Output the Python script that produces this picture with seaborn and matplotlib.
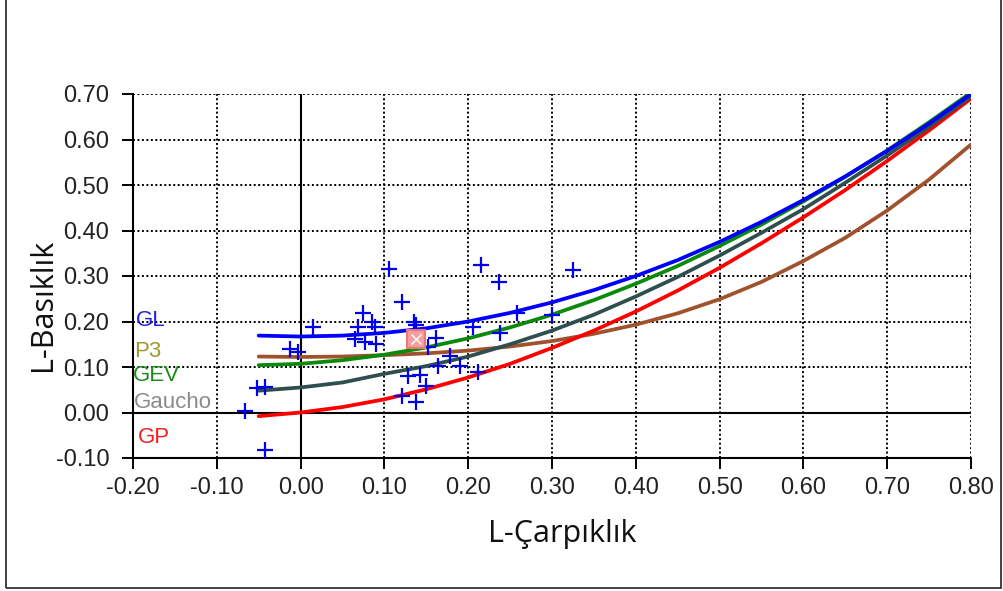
import numpy as np
import pandas as pd
import matplotlib
matplotlib.use('Agg')
import matplotlib.pyplot as plt
import seaborn as sns
from matplotlib.patches import Rectangle

# L-skewness grid used for the theoretical curves
t3 = [-0.05, 0.00, 0.05, 0.10, 0.15, 0.20, 0.25, 0.30, 0.35, 0.40,
      0.45, 0.50, 0.55, 0.60, 0.65, 0.70, 0.75, 0.80]
gl = [0.169, 0.167, 0.169, 0.175, 0.185, 0.200, 0.219, 0.242, 0.269, 0.300,
      0.335, 0.375, 0.419, 0.467, 0.519, 0.575, 0.635, 0.700]
gev = [0.104, 0.107, 0.115, 0.127, 0.143, 0.163, 0.187, 0.215, 0.247, 0.283,
       0.322, 0.366, 0.413, 0.464, 0.518, 0.576, 0.638, 0.703]
gaucho = [0.048, 0.055, 0.066, 0.085, 0.102, 0.123, 0.150, 0.180, 0.215, 0.255,
          0.298, 0.345, 0.395, 0.447, 0.505, 0.565, 0.628, 0.695]
gp = [-0.008, 0.000, 0.012, 0.029, 0.051, 0.077, 0.107, 0.142, 0.180, 0.222,
      0.268, 0.318, 0.372, 0.429, 0.489, 0.553, 0.620, 0.690]
p3 = [0.123, 0.122, 0.123, 0.126, 0.130, 0.136, 0.145, 0.157, 0.173, 0.193,
      0.218, 0.249, 0.287, 0.333, 0.384, 0.444, 0.512, 0.589]

# station L-moment ratios
obs_t3 = [-0.066, -0.052, -0.043, -0.042, -0.013, -0.003, 0.015, 0.065, 0.068,
          0.075, 0.077, 0.085, 0.089, 0.090, 0.105, 0.121, 0.121, 0.128, 0.135,
          0.138, 0.138, 0.142, 0.150, 0.152, 0.162, 0.164, 0.178, 0.190, 0.206,
          0.212, 0.215, 0.237, 0.238, 0.258, 0.300, 0.325]
obs_t4 = [0.003, 0.054, 0.056, -0.083, 0.140, 0.134, 0.187, 0.162, 0.188,
          0.219, 0.154, 0.198, 0.188, 0.151, 0.315, 0.242, 0.036, 0.081, 0.200,
          0.193, 0.023, 0.083, 0.058, 0.145, 0.164, 0.102, 0.125, 0.102, 0.188,
          0.088, 0.325, 0.286, 0.175, 0.219, 0.215, 0.314]
mean_t3 = [0.138]
mean_t4 = [0.162]

dist_names = ['GL', 'P3', 'GEV', 'Gaucho', 'GP']
line_colors = {'GL': '#0000FF', 'P3': '#A0522D', 'GEV': '#0A8A0A',
               'Gaucho': '#2F4F4F', 'GP': '#FF0000'}
label_colors = {'GL': '#2020E0', 'P3': '#9A9A30', 'GEV': '#1A8A1A',
                'Gaucho': '#8A8A8A', 'GP': '#F02020'}
label_y = [0.202, 0.134, 0.081, 0.023, -0.056]
label_x = [-0.197, -0.199, -0.200, -0.199, -0.194]

x_ticks = [-0.2, -0.1, 0.0, 0.1, 0.2, 0.3, 0.4, 0.5, 0.6, 0.7, 0.8]
x_labels = ['-0.20', '-0.10', '0.00', '0.10', '0.20', '0.30', '0.40',
            '0.50', '0.60', '0.70', '0.80']
y_ticks = [-0.1, 0.0, 0.1, 0.2, 0.3, 0.4, 0.5, 0.6, 0.7]
y_labels = ['-0.10', '0.00', '0.10', '0.20', '0.30', '0.40', '0.50',
            '0.60', '0.70']

curves = pd.DataFrame({
    't3': t3 * 5,
    't4': gl + p3 + gev + gaucho + gp,
    'dist': [n for n in dist_names for _ in t3],
})

sns.set_style('white')
plt.rcParams['font.family'] = ['Liberation Sans', 'DejaVu Sans']

fig = plt.figure(figsize=(10.04, 5.91), dpi=100)
ax = fig.add_axes([133 / 1004, 1 - 458 / 591, 838 / 1004, 364 / 591])

ax.grid(True, color='black', linestyle=(0, (1, 1.3)), linewidth=1.4)
ax.axhline(0, color='black', lw=1.5, zorder=1.5)
ax.axvline(0, color='black', lw=1.5, zorder=1.5)

for name in ['P3', 'GP', 'Gaucho', 'GEV', 'GL']:
    sns.lineplot(data=curves[curves['dist'] == name], x='t3', y='t4',
                 color=line_colors[name], lw=2.7, sort=False,
                 estimator=None, ax=ax, zorder=3)

sns.scatterplot(x=obs_t3, y=obs_t4, marker='+', s=130, linewidth=1.6,
                color='#0000EE', ax=ax, zorder=5)
ax.plot(mean_t3, mean_t4, marker='s', ms=12.5, mfc='#F4A0A0', mec='#EC7878',
        mew=1.5, ls='none', zorder=6)
ax.plot(mean_t3, mean_t4, marker='x', ms=7, color='white', mew=1.0,
        ls='none', zorder=7)

for name, lx, ly in zip(dist_names, label_x, label_y):
    ax.text(lx, ly, name, color=label_colors[name], fontsize=16,
            ha='left', va='center', zorder=4)

ax.set_xlim(-0.2, 0.8)
ax.set_ylim(-0.1, 0.7)
ax.set_xticks(x_ticks)
ax.set_xticklabels(x_labels)
ax.set_yticks(y_ticks)
ax.set_yticklabels(y_labels)
ax.tick_params(axis='both', direction='out', length=8, width=1.4,
               color='black', labelsize=17, labelcolor='#222222',
               bottom=True, left=True)
ax.tick_params(axis='x', pad=6)
ax.tick_params(axis='y', pad=9)

for side in ['top', 'right']:
    ax.spines[side].set_visible(False)
for side in ['left', 'bottom']:
    ax.spines[side].set_color('black')
    ax.spines[side].set_linewidth(1.5)

ax.set_xlabel('L-Çarpıklık', fontsize=22, family=['Open Sans', 'DejaVu Sans'],
              color='#111111')
ax.set_ylabel('L-Basıklık', fontsize=22, family=['Open Sans', 'DejaVu Sans'],
              color='#111111')
ax.xaxis.set_label_coords(0.512, -0.168)
ax.yaxis.set_label_coords(-0.09, 0.42)

fig.patches.append(Rectangle((6 / 1004, 3 / 591), 995 / 1004, 1.0,
                             transform=fig.transFigure, fill=False,
                             ec='#333333', lw=1.3))

fig.savefig('out.png', dpi=100)
